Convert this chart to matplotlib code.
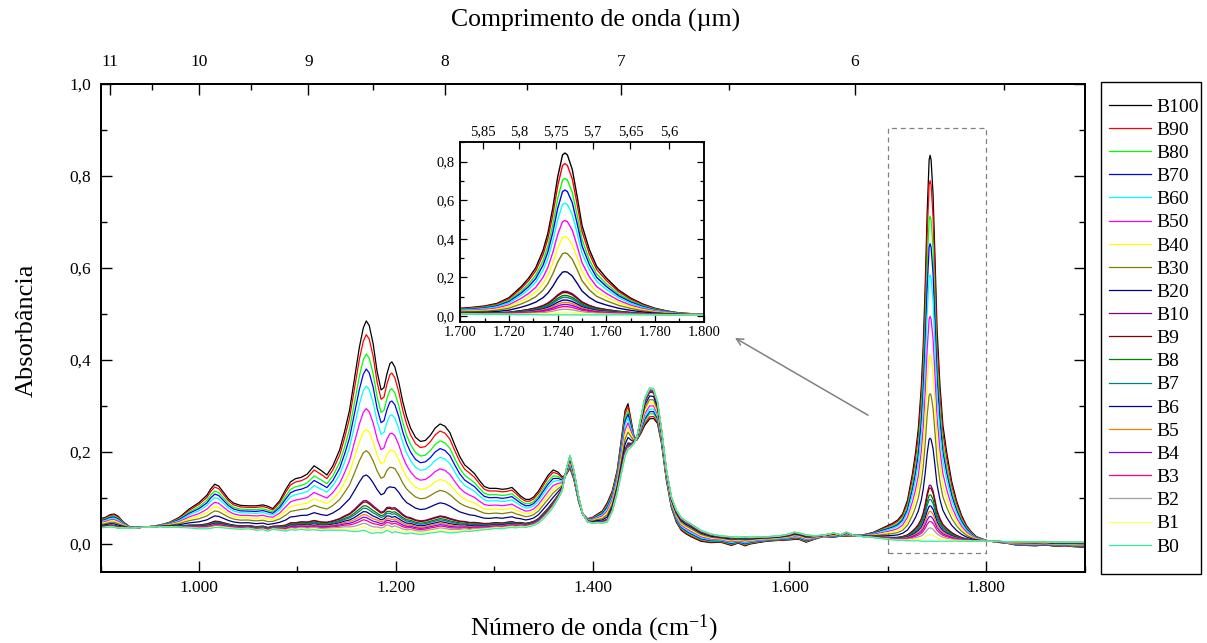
import numpy as np
import matplotlib
matplotlib.use("Agg")
import matplotlib.pyplot as plt
from matplotlib.ticker import MultipleLocator, FuncFormatter
from matplotlib.patches import Rectangle

plt.rcParams['font.family'] = ['Liberation Serif', 'DejaVu Serif']
plt.rcParams['mathtext.fontset'] = 'custom'
plt.rcParams['mathtext.rm'] = 'Liberation Serif'
plt.rcParams['mathtext.it'] = 'Liberation Serif:italic'

# ---------------- data ----------------
wavenumber = [900, 905, 910, 914, 918, 923, 930, 940, 950, 960, 970, 980, 990,
              1000, 1008, 1012, 1016, 1020, 1025, 1030, 1035, 1042, 1050, 1058, 1065,
              1070, 1075, 1082, 1088, 1093, 1098, 1104, 1110, 1117, 1124, 1130, 1136,
              1143, 1148, 1153, 1158, 1163, 1167, 1170, 1173, 1177, 1181, 1185, 1188,
              1191, 1194, 1196, 1199, 1203, 1207, 1211, 1215, 1220, 1225, 1230, 1235,
              1240, 1245, 1250, 1255, 1260, 1265, 1270, 1275, 1280, 1285, 1290, 1295,
              1302, 1308, 1313, 1318, 1322, 1327, 1332, 1336, 1340, 1345, 1350, 1355,
              1360, 1365, 1369, 1373, 1377, 1381, 1386, 1390, 1395, 1400, 1405, 1410,
              1415, 1420, 1425, 1430, 1433, 1436, 1439, 1442, 1445, 1449, 1453, 1458,
              1462, 1466, 1470, 1475, 1480, 1485, 1490, 1495, 1500, 1510, 1520, 1530,
              1541, 1548, 1555, 1560, 1568, 1577, 1590, 1600, 1605, 1610, 1617, 1625,
              1634, 1645, 1652, 1658, 1665, 1675, 1685, 1692, 1700, 1705, 1710, 1715,
              1720, 1725, 1728, 1731, 1734, 1736, 1738, 1740, 1742, 1743, 1744, 1746,
              1748, 1750, 1753, 1756, 1760, 1765, 1770, 1775, 1780, 1785, 1790, 1800,
              1810, 1820, 1830, 1840, 1850, 1860, 1870, 1880, 1890, 1900]

absorb_b100 = [0.055, 0.058, 0.064, 0.065, 0.060, 0.048, 0.037, 0.036, 0.038, 0.041, 0.047, 0.058, 0.076,
               0.090, 0.106, 0.120, 0.130, 0.126, 0.112, 0.098, 0.089, 0.084, 0.083, 0.083, 0.085,
               0.082, 0.077, 0.094, 0.118, 0.135, 0.142, 0.145, 0.152, 0.170, 0.160, 0.150, 0.170,
               0.205, 0.245, 0.291, 0.360, 0.428, 0.470, 0.485, 0.475, 0.435, 0.375, 0.335, 0.340,
               0.370, 0.392, 0.396, 0.385, 0.352, 0.310, 0.277, 0.252, 0.232, 0.223, 0.225, 0.236,
               0.252, 0.261, 0.256, 0.242, 0.215, 0.190, 0.172, 0.163, 0.153, 0.138, 0.125, 0.121,
               0.121, 0.119, 0.120, 0.123, 0.115, 0.104, 0.097, 0.097, 0.102, 0.115, 0.133, 0.150,
               0.161, 0.156, 0.146, 0.150, 0.165, 0.140, 0.090, 0.065, 0.055, 0.058, 0.065, 0.072,
               0.090, 0.115, 0.160, 0.240, 0.290, 0.305, 0.270, 0.235, 0.226, 0.240, 0.258, 0.272,
               0.273, 0.262, 0.219, 0.139, 0.080, 0.048, 0.030, 0.022, 0.016, 0.006, 0.003, 0.004,
               -0.003, 0.002, -0.004, 0.000, 0.003, 0.006, 0.008, 0.009, 0.010, 0.010, 0.004, 0.010,
               0.016, 0.015, 0.017, 0.017, 0.018, 0.020, 0.025, 0.032, 0.040, 0.045, 0.052, 0.065,
               0.095, 0.152, 0.195, 0.250, 0.340, 0.430, 0.560, 0.720, 0.835, 0.845, 0.835, 0.760,
               0.620, 0.470, 0.345, 0.258, 0.197, 0.135, 0.093, 0.062, 0.040, 0.026, 0.016, 0.008,
               0.004, 0.002, -0.002, -0.003, -0.004, -0.002, -0.005, -0.004, -0.006, -0.007]

absorb_b0 = [0.035, 0.036, 0.037, 0.036, 0.034, 0.035, 0.034, 0.036, 0.037, 0.038, 0.037, 0.036, 0.035,
             0.033, 0.033, 0.034, 0.036, 0.036, 0.035, 0.034, 0.033, 0.032, 0.033, 0.030, 0.031,
             0.028, 0.032, 0.030, 0.028, 0.031, 0.030, 0.032, 0.030, 0.031, 0.029, 0.030, 0.030,
             0.030, 0.030, 0.028, 0.027, 0.028, 0.030, 0.028, 0.025, 0.023, 0.025, 0.024, 0.026,
             0.030, 0.027, 0.024, 0.027, 0.025, 0.023, 0.022, 0.024, 0.022, 0.021, 0.022, 0.024,
             0.025, 0.027, 0.026, 0.024, 0.025, 0.026, 0.028, 0.027, 0.029, 0.030, 0.031, 0.032,
             0.034, 0.033, 0.035, 0.036, 0.035, 0.037, 0.036, 0.038, 0.040, 0.045, 0.055, 0.066,
             0.080, 0.098, 0.115, 0.160, 0.193, 0.160, 0.100, 0.065, 0.048, 0.045, 0.046, 0.045,
             0.048, 0.070, 0.110, 0.160, 0.190, 0.205, 0.210, 0.218, 0.232, 0.275, 0.318, 0.340,
             0.338, 0.310, 0.250, 0.162, 0.103, 0.075, 0.058, 0.050, 0.044, 0.030, 0.022, 0.018,
             0.016, 0.015, 0.016, 0.015, 0.016, 0.016, 0.018, 0.022, 0.026, 0.024, 0.020, 0.018,
             0.019, 0.024, 0.020, 0.026, 0.019, 0.016, 0.014, 0.012, 0.010, 0.009, 0.008, 0.008,
             0.007, 0.007, 0.007, 0.007, 0.006, 0.006, 0.006, 0.006, 0.006, 0.006, 0.006, 0.006,
             0.006, 0.006, 0.006, 0.006, 0.006, 0.006, 0.006, 0.006, 0.006, 0.006, 0.006, 0.006,
             0.006, 0.005, 0.005, 0.005, 0.005, 0.005, 0.004, 0.004, 0.004, 0.004]

series_labels = ['B100', 'B90', 'B80', 'B70', 'B60', 'B50', 'B40', 'B30', 'B20', 'B10',
                 'B9', 'B8', 'B7', 'B6', 'B5', 'B4', 'B3', 'B2', 'B1', 'B0']
# carbonyl band (~1743 cm-1) maximum of every series
carbonyl_peak = [0.845, 0.790, 0.713, 0.653, 0.585, 0.495, 0.412, 0.327, 0.230, 0.128,
                 0.122, 0.107, 0.097, 0.083, 0.071, 0.060, 0.049, 0.035, 0.020, 0.006]
series_colors = ['#000000', '#FF0000', '#00FF00', '#0000FF', '#00FFFF', '#FF00FF', '#FFFF00',
                 '#808000', '#000080', '#800080', '#800000', '#008000', '#008080', '#0000A0',
                 '#FF8000', '#8000FF', '#FF0080', '#A0A0A0', '#FFFF60', '#30EEA0']

main_xticks = [1000, 1200, 1400, 1600, 1800]
top_um_major = [11, 10, 9, 8, 7, 6]
top_um_minor = [10.5, 9.5, 8.5, 7.5, 6.5, 5.5]
inset_um_major = [5.85, 5.8, 5.75, 5.7, 5.65, 5.6]
inset_um_labels = ['5,85', '5,8', '5,75', '5,7', '5,65', '5,6']

# ---------------- figure ----------------
W, H = 1207, 643
fig = plt.figure(figsize=(W / 100, H / 100), dpi=100)

def fbox(l, t, r, b):
    return [l / W, 1 - b / H, (r - l) / W, (b - t) / H]

ax = fig.add_axes(fbox(100.6, 84, 1084.6, 571.6))
axin = fig.add_axes(fbox(460.3, 142, 703.7, 322))

wn = np.array(wavenumber)
b100 = np.array(absorb_b100)
b0 = np.array(absorb_b0)
p100, p0 = carbonyl_peak[0], carbonyl_peak[-1]

handles = []
for lab, pk, col in zip(series_labels, carbonyl_peak, series_colors):
    frac = (pk - p0) / (p100 - p0)
    y = b0 + frac * (b100 - b0)
    h, = ax.plot(wn, y, color=col, lw=0.9, label=lab)
    axin.plot(wn, y, color=col, lw=1.0)
    handles.append(h)

xfmt = FuncFormatter(lambda v, _: f"{v/1000:.3f}")
yfmt = FuncFormatter(lambda v, _: f"{v:.1f}".replace('.', ','))

# main axes
ax.set_xlim(900, 1900)
ax.set_ylim(-0.06, 1.0)
ax.set_xticks(main_xticks)
ax.xaxis.set_minor_locator(MultipleLocator(100))
ax.yaxis.set_major_locator(MultipleLocator(0.2))
ax.yaxis.set_minor_locator(MultipleLocator(0.1))
ax.xaxis.set_major_formatter(xfmt)
ax.yaxis.set_major_formatter(yfmt)
ax.tick_params(which='both', direction='in', right=True, top=False, width=1.0)
ax.tick_params(which='major', length=8, labelsize=12.5)
ax.tick_params(which='minor', length=4.5)
ax.tick_params(axis='x', pad=6)
ax.tick_params(axis='y', pad=7)
for s in ax.spines.values():
    s.set_linewidth(1.4)

# top wavelength axis
ax2 = ax.twiny()
ax2.set_xlim(900, 1900)
ax2.set_xticks([1e4 / v for v in top_um_major])
ax2.set_xticklabels([str(v) for v in top_um_major])
ax2.set_xticks([1e4 / v for v in top_um_minor], minor=True)
ax2.tick_params(which='both', direction='in', width=1.0)
ax2.tick_params(which='major', length=8, labelsize=12.5, pad=10)
ax2.tick_params(which='minor', length=4.5)
for s in ax2.spines.values():
    s.set_linewidth(1.4)

# zoom rectangle and arrow
ax.add_patch(Rectangle((1700, -0.02), 100, 0.924, fill=False, ls=(0, (4, 3)),
                       ec='#808080', lw=0.9))
ax.annotate('', xy=(1544.7, 0.448), xytext=(1679.9, 0.280),
            arrowprops=dict(arrowstyle='->', color='#808080', lw=1.1,
                            mutation_scale=12, shrinkA=0, shrinkB=0))

# inset axes
axin.set_xlim(1700, 1800)
axin.set_ylim(-0.031, 0.902)
axin.xaxis.set_major_locator(MultipleLocator(20))
axin.xaxis.set_minor_locator(MultipleLocator(10))
axin.yaxis.set_major_locator(MultipleLocator(0.2))
axin.yaxis.set_minor_locator(MultipleLocator(0.1))
axin.xaxis.set_major_formatter(xfmt)
axin.yaxis.set_major_formatter(yfmt)
axin.tick_params(which='both', direction='in', right=True, width=0.9)
axin.tick_params(which='major', length=5, labelsize=10.5)
axin.tick_params(which='minor', length=3)
axin.tick_params(axis='x', pad=3)
axin.tick_params(axis='y', pad=4)
for s in axin.spines.values():
    s.set_linewidth(1.1)
axin2 = axin.twiny()
axin2.set_xlim(1700, 1800)
axin2.set_xticks([1e4 / v for v in inset_um_major])
axin2.set_xticklabels(inset_um_labels)
axin2.tick_params(which='major', direction='in', length=5, width=0.9, labelsize=10.5, pad=3)
for s in axin2.spines.values():
    s.set_linewidth(1.1)

# axis titles
fig.text(27 / W, 1 - 330 / H, 'Absorbância', rotation=90, ha='center', va='center', fontsize=19)
fig.text(594 / W, 1 - 628 / H, 'Número de onda (cm$^{\\mathregular{-1}}$)', ha='center',
         va='center', fontsize=18.5)
fig.text(596 / W, 1 - 20 / H, 'Comprimento de onda (µm)', ha='center', va='center', fontsize=18.5)

# legend
fig.patches.append(Rectangle((1101 / W, 1 - 574 / H), 100 / W, 492 / H, fill=False,
                             lw=1.0, ec='black', transform=fig.transFigure, figure=fig))
fig.legend(handles, series_labels, loc='upper left', bbox_to_anchor=(1109 / W, 1 - 98 / H),
           frameon=False, fontsize=14, handlelength=2.16, handletextpad=0.26,
           labelspacing=0.285, borderpad=0, borderaxespad=0)

fig.savefig('out.png', dpi=100)
